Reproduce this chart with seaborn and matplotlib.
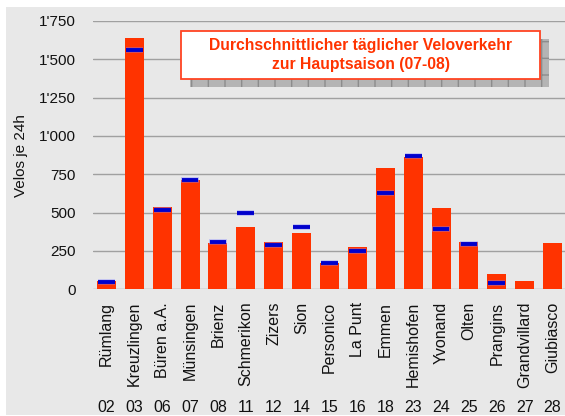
import matplotlib
matplotlib.use("Agg")
import matplotlib.pyplot as plt
import matplotlib.patches as mpatches
import matplotlib.transforms as mtransforms
from matplotlib.ticker import FuncFormatter, MultipleLocator
import numpy as np
import pandas as pd
import seaborn as sns

stations = ["Rümlang", "Kreuzlingen", "Büren a.A.", "Münsingen", "Brienz", "Schmerikon",
            "Zizers", "Sion", "Personico", "La Punt", "Emmen", "Hemishofen", "Yvonand",
            "Olten", "Prangins", "Grandvillard", "Giubiasco"]
codes = ["02", "03", "06", "07", "08", "11", "12", "14", "15", "16", "18", "23", "24",
         "25", "26", "27", "28"]
season_values = [54, 1638, 536, 712, 302, 406, 308, 367, 171, 276, 791, 863, 530, 308, 100, 54, 302]
marker_values = [50, 1560, 519, 712, 308, 495, 289, 406, 172, 252, 630, 867, 391, 297, 43,
                 np.nan, np.nan]

title = "Durchschnittlicher täglicher Veloverkehr\nzur Hauptsaison (07-08)"
ylabel = "Velos je 24h"

sns.set_theme(style="white")
plt.rcParams["font.family"] = ["Liberation Sans", "DejaVu Sans"]

BAR = "#FF3300"
BLUE = "#0000CC"

fig = plt.figure(figsize=(5.65, 4.16), dpi=100)
fig.patch.set_facecolor("white")
bg = mpatches.Rectangle((6 / 565, 1 / 416), 1, (416 - 7 - 1) / 416, transform=fig.transFigure,
                        facecolor="#E8E8E8", edgecolor="none", zorder=-10)
fig.patches.append(bg)

ax = fig.add_axes([92.5 / 565, (416 - 289.3) / 416, 474 / 565, 268.3 / 416])
ax.set_facecolor("none")

df = pd.DataFrame({"station": stations, "value": season_values, "marker": marker_values})
sns.barplot(data=df, x="station", y="value", color=BAR, saturation=1, width=0.68, ax=ax,
            zorder=3, edgecolor="none")

xs = np.arange(len(stations))
mask = ~np.isnan(df["marker"].values)
ax.hlines(df["marker"].values[mask], xs[mask] - 0.31, xs[mask] + 0.31, color="#8080FF",
          lw=4.0, zorder=4, alpha=0.45)
ax.hlines(df["marker"].values[mask], xs[mask] - 0.3, xs[mask] + 0.3, color=BLUE,
          lw=2.8, zorder=5)

ax.set_xlim(-0.5, len(stations) - 0.5)
ax.set_ylim(0, 1750)
ax.yaxis.set_major_locator(MultipleLocator(250))
ax.yaxis.set_major_formatter(FuncFormatter(lambda v, p: f"{int(v):,}".replace(",", "'")))
ax.grid(axis="y", color="#A0A0A0", lw=1.0, zorder=0)
ax.grid(axis="x", visible=False)
for s in ax.spines.values():
    s.set_visible(False)

ax.tick_params(axis="y", length=0, pad=12, labelsize=11, labelcolor="#111111")
ax.tick_params(axis="x", length=0, pad=9, labelsize=11.5, labelcolor="#111111")
ax.set_xticks(xs)
ax.set_xticklabels(stations, rotation=90, va="top", ha="center")
ax.set_xlabel("")
ax.set_ylabel(ylabel, fontsize=11, color="#111111", labelpad=8)

trans = mtransforms.blended_transform_factory(ax.transData, fig.transFigure)
for i, c in enumerate(codes):
    ax.text(i, (416 - 407) / 416, c, transform=trans, ha="center", va="center",
            fontsize=11.5, color="#111111")

# Title box with gridded shadow
shadow = mpatches.Rectangle((190 / 565, (416 - 87) / 416), (549 - 190) / 565, 48 / 416,
                            transform=fig.transFigure, facecolor="#B4B4B4",
                            edgecolor="#8C8C8C", hatch="+", lw=0, zorder=8)
fig.patches.append(shadow)
box = mpatches.Rectangle((181 / 565, (416 - 79) / 416), (540 - 181) / 565, 48.5 / 416,
                         transform=fig.transFigure, facecolor="white",
                         edgecolor="#FF4422", lw=1.3, zorder=9)
fig.patches.append(box)
fig.text((181 + 540) / 2 / 565, (416 - 55) / 416, title, ha="center", va="center",
         fontsize=11.3, fontweight="bold", color=BAR, linespacing=1.4, zorder=10)

fig.savefig("out.png", dpi=100)
